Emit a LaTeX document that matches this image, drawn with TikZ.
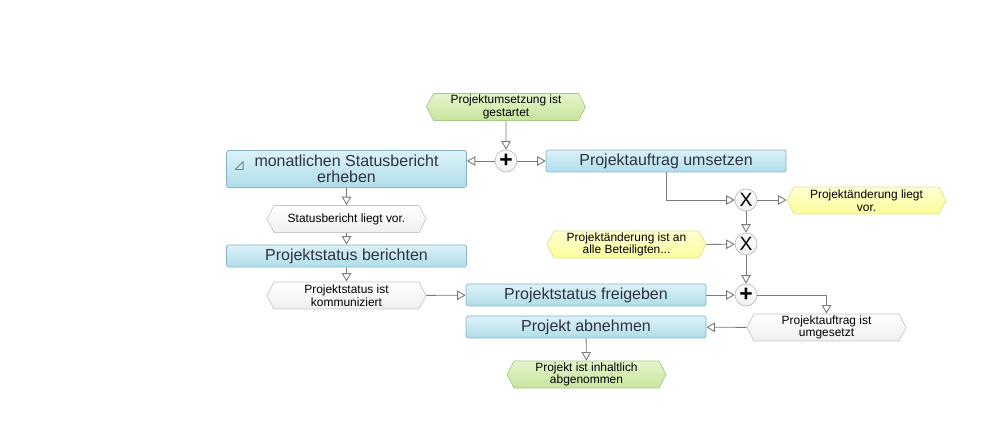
\documentclass[tikz,border=0pt]{standalone}
\usepackage{fontspec}
\setmainfont{Liberation Sans}
\usepackage{tikz}
\usetikzlibrary{shapes.symbols, arrows.meta, calc}
\definecolor{funchi}{HTML}{DDF2F9}
\definecolor{funclo}{HTML}{AEDDEA}
\definecolor{funcborder}{HTML}{86B4C6}
\definecolor{functext}{HTML}{2E3440}
\definecolor{greenhi}{HTML}{E6F5CC}
\definecolor{greenlo}{HTML}{C6E59C}
\definecolor{greenborder}{HTML}{A9C98A}
\definecolor{yellowhi}{HTML}{FFFFD2}
\definecolor{yellowlo}{HTML}{FCFC9A}
\definecolor{yellowborder}{HTML}{E2E28C}
\definecolor{whitelo}{HTML}{EFEFEF}
\definecolor{whiteborder}{HTML}{C8C8C8}
\definecolor{linecolor}{HTML}{7A7A7A}
\definecolor{gateborder}{HTML}{BDBDBD}

\begin{document}
\begin{tikzpicture}[
    func/.style={draw=funcborder, top color=funchi, bottom color=funclo, rounded corners=1pt,
        minimum width=4.8cm, minimum height=0.44cm, inner sep=1pt, align=center,
        text=functext, font=\fontsize{9.1}{9.3}\selectfont},
    evt/.style={signal, signal to=west and east, signal pointer angle=125,
        minimum width=3.18cm, minimum height=0.54cm, inner sep=1pt, align=center,
        font=\fontsize{6.8}{7.1}\selectfont},
    evtgreen/.style={evt, draw=greenborder, top color=greenhi, bottom color=greenlo},
    evtyellow/.style={evt, draw=yellowborder, top color=yellowhi, bottom color=yellowlo},
    evtwhite/.style={evt, draw=whiteborder, top color=white, bottom color=whitelo},
    gate/.style={circle, draw=gateborder, top color=white, bottom color=gray!12,
        minimum size=0.44cm, inner sep=0pt},
    flow/.style={draw=linecolor, line width=0.5pt,
        -{Triangle[open, length=0.17cm, width=0.19cm]}}
]
\useasboundingbox (0,0) rectangle (19.9,-8.7);

% Events and functions, left column
\node[evtgreen] (start) at (10.12,-2.14) {Projektumsetzung ist\\gestartet};
\node[func, minimum height=0.74cm] (erheben) at (6.93,-3.38) {monatlichen Statusbericht\\erheben};
\node[evtwhite] (statusvor) at (6.93,-4.38) {Statusbericht liegt vor.};
\node[func] (berichten) at (6.93,-5.12) {Projektstatus berichten};
\node[evtwhite] (kommuniziert) at (6.93,-5.91) {Projektstatus ist\\kommuniziert};

% Middle column
\node[gate, font=\bfseries\fontsize{13}{13}\selectfont] (and1) at (10.12,-3.22) {+};
\node[func] (umsetzen) at (13.32,-3.22) {Projektauftrag umsetzen};
\node[evtyellow] (beteiligt) at (12.53,-4.89) {Projektänderung ist an\\alle Beteiligten...};
\node[func] (freigeben) at (11.72,-5.90) {Projektstatus freigeben};
\node[func] (abnehmen) at (11.72,-6.54) {Projekt abnehmen};
\node[evtgreen] (ende) at (11.73,-7.49) {Projekt ist inhaltlich\\abgenommen};

% Right column
\node[gate, font=\fontsize{11}{11}\selectfont] (xor1) at (14.92,-4.00) {X};
\node[evtyellow] (liegtvor) at (17.33,-4.01) {Projektänderung liegt\\vor.};
\node[gate, font=\fontsize{11}{11}\selectfont] (xor2) at (14.92,-4.88) {X};
\node[gate, font=\bfseries\fontsize{13}{13}\selectfont] (and2) at (14.92,-5.90) {+};
\node[evtwhite] (umgesetzt) at (16.53,-6.55) {Projektauftrag ist\\umgesetzt};

% Subprocess icon
\draw[gray, line width=0.5pt, line join=round]
    ($(erheben.west)+(0.18,-0.01)$) -- ($(erheben.west)+(0.34,-0.01)$)
    -- ($(erheben.west)+(0.34,0.15)$) -- cycle;

% Connectors
\draw[flow] (start) -- (and1);
\draw[flow] (and1) -- (and1 -| erheben.east);
\draw[flow] (and1) -- (umsetzen);
\draw[flow] (erheben) -- (statusvor);
\draw[flow] (statusvor) -- (berichten);
\draw[flow] (berichten) -- (kommuniziert);
\draw[flow] (kommuniziert) -- (freigeben);
\draw[flow] (umsetzen.south) |- (xor1);
\draw[flow] (xor1) -- (xor1 -| liegtvor.west);
\draw[flow] (xor1) -- (xor2);
\draw[flow] (beteiligt.east) -- (xor2);
\draw[flow] (xor2) -- (and2);
\draw[flow] (freigeben) -- (and2);
\draw[flow] (and2) -| (umgesetzt);
\draw[flow] (umgesetzt) -- (abnehmen);
\draw[flow] (abnehmen) -- (ende);
\end{tikzpicture}
\end{document}
